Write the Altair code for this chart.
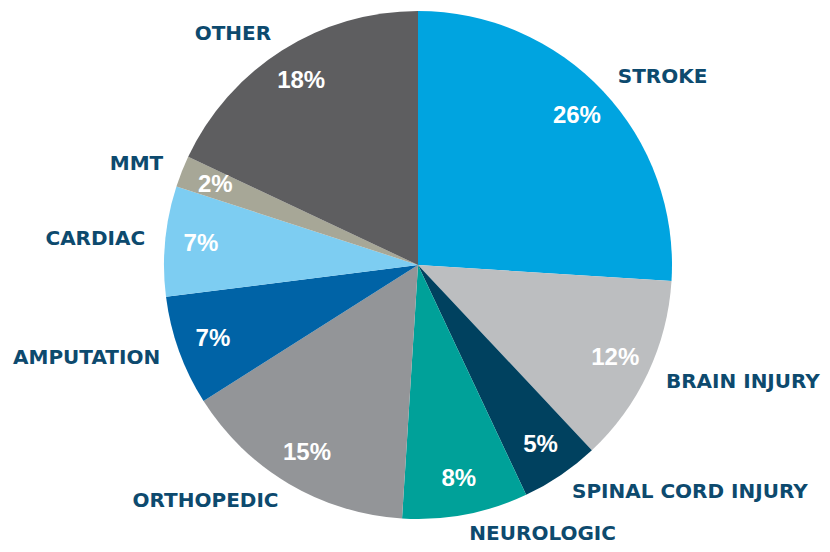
import altair as alt
import pandas as pd

categories = ["STROKE", "BRAIN INJURY", "SPINAL CORD INJURY", "NEUROLOGIC", "ORTHOPEDIC",
              "AMPUTATION", "CARDIAC", "MMT", "OTHER"]
values = [26, 12, 5, 8, 15, 7, 7, 2, 18]
colors = ["#00A4E0", "#BCBEC0", "#00415F", "#00A199", "#939598",
          "#0063A6", "#7DCDF2", "#A7A797", "#5E5E60"]

df = pd.DataFrame({
    "category": categories,
    "value": values,
    "order": list(range(len(categories))),
})
total = sum(values)

LABEL_FONT = "DejaVu Sans"
PCT_FONT = "Liberation Sans"
LABEL_COLOR = "#0D4A6E"

base = alt.Chart(df)

theta_scale = alt.Scale(domain=[0, total])

arc = base.mark_arc(outerRadius=254).encode(
    theta=alt.Theta("value:Q", stack=True, scale=theta_scale),
    color=alt.Color("category:N", scale=alt.Scale(domain=categories, range=colors), legend=None),
    order=alt.Order("order:Q"),
)

mid = base.transform_window(
    cum="sum(value)", sort=[alt.SortField("order")], frame=[None, 0]
).transform_calculate(
    mid="datum.cum - datum.value / 2",
    pct="datum.value + '%'",
)

pct = mid.mark_text(radius=218, font=PCT_FONT, fontSize=24, fontWeight="bold",
                    color="white", align="center", baseline="middle").encode(
    theta=alt.Theta("mid:Q", scale=theta_scale),
    text="pct:N",
)

right_labels = mid.transform_filter(f"datum.mid < {total / 2}").mark_text(
    radius=274, font=LABEL_FONT, fontSize=20, fontWeight="bold", color=LABEL_COLOR,
    align="left", baseline="middle").encode(
    theta=alt.Theta("mid:Q", scale=theta_scale),
    text="category:N",
)

left_labels = mid.transform_filter(f"datum.mid >= {total / 2}").mark_text(
    radius=274, font=LABEL_FONT, fontSize=20, fontWeight="bold", color=LABEL_COLOR,
    align="right", baseline="middle").encode(
    theta=alt.Theta("mid:Q", scale=theta_scale),
    text="category:N",
)

chart = alt.layer(arc, pct, right_labels, left_labels).properties(
    width=808, height=514,
    autosize=alt.AutoSizeParams(type="none"),
    padding={"left": 6, "top": 0, "right": 0, "bottom": 22},
).configure_view(stroke=None)

chart.save("out.html", embed_options={"renderer": "svg", "actions": False})
